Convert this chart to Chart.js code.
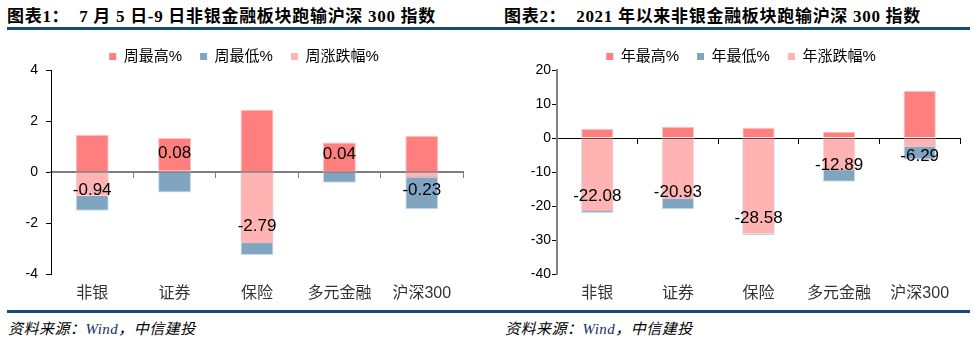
<!DOCTYPE html>
<html>
<head>
<meta charset="utf-8">
<script src="https://cdn.jsdelivr.net/npm/chart.js@4.4.0/dist/chart.umd.min.js"></script>
<style>
  body { margin: 0; width: 974px; height: 343px; background: #fff; position: relative; overflow: hidden; }
  .title { position: absolute; top: 2px; font: bold 17px "Liberation Serif", "Noto Sans CJK SC", serif; letter-spacing: 0.7px; white-space: pre; color: #000; }
  .rule { position: absolute; left: 7px; width: 963px; background: #134b7c; }
  .src { position: absolute; top: 317px; font: italic 15px "Liberation Serif", "Noto Sans CJK SC", serif; letter-spacing: 0.5px; white-space: pre; color: #000; }
  .src span { color: #14305e; }
  .box { position: absolute; top: 31px; width: 487px; height: 279px; }
</style>
</head>
<body>
<div class="title" style="left:7px">图表1：  7 月 5 日-9 日非银金融板块跑输沪深 300 指数</div>
<div class="title" style="left:504px">图表2：  2021 年以来非银金融板块跑输沪深 300 指数</div>
<div class="rule" style="top:27px;height:3px"></div>
<div class="box" style="left:0"><canvas id="weekChart"></canvas></div>
<div class="box" style="left:487px"><canvas id="yearChart"></canvas></div>
<div class="rule" style="top:310px;height:3px"></div>
<div class="src" style="left:8px">资料来源：<span>Wind</span>，中信建投</div>
<div class="src" style="left:505px">资料来源：<span>Wind</span>，中信建投</div>

<script>
const categories = ['非银', '证券', '保险', '多元金融', '沪深300'];

// 7月5日-9日
const weekHigh   = [1.46, 1.33, 2.44, 1.16, 1.41];
const weekLow    = [-1.52, -0.80, -3.25, -0.42, -1.46];
const weekChange = [-0.94, 0.08, -2.79, 0.04, -0.23];

// 2021年以来
const yearHigh   = [2.75, 3.33, 3.04, 1.86, 13.87];
const yearLow    = [-22.08, -20.93, -28.58, -12.89, -6.29];
const yearChange = [-21.6, -18.0, -28.2, -9.55, -2.7];

const RED = '#ff7f7f', BLUE = '#7fa5c0', PINK = '#ffb3b3';
const SANS = '"Liberation Sans", "Noto Sans CJK SC", sans-serif';

// value labels for one series, kept clear of the zero line
const barLabels = {
  id: 'barLabels',
  afterDatasetsDraw(chart, args, opts) {
    const idx = opts.dataset;
    const meta = chart.getDatasetMeta(idx);
    const zero = chart.scales.y.getPixelForValue(0);
    const ctx = chart.ctx;
    ctx.save();
    ctx.font = '17px ' + SANS;
    ctx.fillStyle = '#000';
    ctx.textAlign = 'center';
    ctx.textBaseline = 'middle';
    meta.data.forEach((bar, i) => {
      const v = chart.data.datasets[idx].data[i];
      let cy = bar.y - 17;
      if (v < 0) cy = Math.max(cy, zero + 18);
      ctx.fillText(v.toFixed(2), bar.x, cy);
    });
    ctx.restore();
  }
};

function makeChart(id, names, high, low, change, s) {
  return new Chart(document.getElementById(id), {
    type: 'bar',
    data: {
      labels: categories,
      datasets: [
        { label: names[0], data: high,   backgroundColor: RED,  borderColor: '#ffc2c2', borderWidth: 1, order: 3 },
        { label: names[1], data: low,    backgroundColor: BLUE, borderColor: '#cddde9', borderWidth: 1, order: 2 },
        { label: names[2], data: change, backgroundColor: PINK, borderColor: '#ffd3d3', borderWidth: 1, order: 1 }
      ]
    },
    plugins: [barLabels],
    options: {
      responsive: true,
      maintainAspectRatio: false,
      animation: false,
      datasets: { bar: { grouped: false, categoryPercentage: 0.8, barPercentage: 0.5 } },
      layout: { padding: { left: s.padLeft, right: s.padRight, top: 0, bottom: 0 } },
      plugins: {
        tooltip: { enabled: false },
        barLabels: { dataset: s.labelSeries },
        legend: {
          position: 'top',
          maxHeight: 39,
          labels: {
            boxWidth: 7, boxHeight: 7, padding: 18,
            color: '#000',
            font: { size: 15, family: SANS },
            sort: (a, b) => a.datasetIndex - b.datasetIndex,
            generateLabels: chart => Chart.defaults.plugins.legend.labels.generateLabels(chart)
              .map(l => Object.assign(l, { lineWidth: 0 }))
          }
        }
      },
      scales: {
        x: {
          grid: { display: false, drawTicks: false },
          border: { display: false },
          ticks: { color: '#333', padding: 10, font: { size: 16, family: SANS } },
          afterFit: sc => { sc.height = 36; }
        },
        zero: {
          axis: 'x',
          type: 'category',
          position: { y: 0 },
          offset: true,
          grid: { offset: true, drawOnChartArea: false, drawTicks: true, tickLength: 5, color: s.zeroColor, lineWidth: 1 },
          border: { color: s.zeroColor, width: s.zeroWidth },
          ticks: { display: false }
        },
        y: {
          min: s.min, max: s.max,
          ticks: { stepSize: s.step, color: '#000', padding: s.tickPad, font: { size: 14, family: SANS } },
          grid: { drawOnChartArea: false, tickLength: 5, color: '#000' },
          border: { color: s.axisColor, width: s.axisWidth },
          afterFit: sc => { sc.width = s.yWidth; }
        }
      }
    }
  });
}

makeChart('weekChart', ['周最高%', '周最低%', '周涨跌幅%'], weekHigh, weekLow, weekChange, {
  min: -4, max: 4, step: 2, labelSeries: 2,
  padLeft: 25, padRight: 24, yWidth: 26, tickPad: 8,
  axisColor: '#000', axisWidth: 1, zeroColor: '#7f7f7f', zeroWidth: 2
});

makeChart('yearChart', ['年最高%', '年最低%', '年涨跌幅%'], yearHigh, yearLow, yearChange, {
  min: -40, max: 20, step: 10, labelSeries: 1,
  padLeft: 35, padRight: 14, yWidth: 35, tickPad: 1,
  axisColor: '#808080', axisWidth: 2, zeroColor: '#000', zeroWidth: 1
});
</script>
</body>
</html>
